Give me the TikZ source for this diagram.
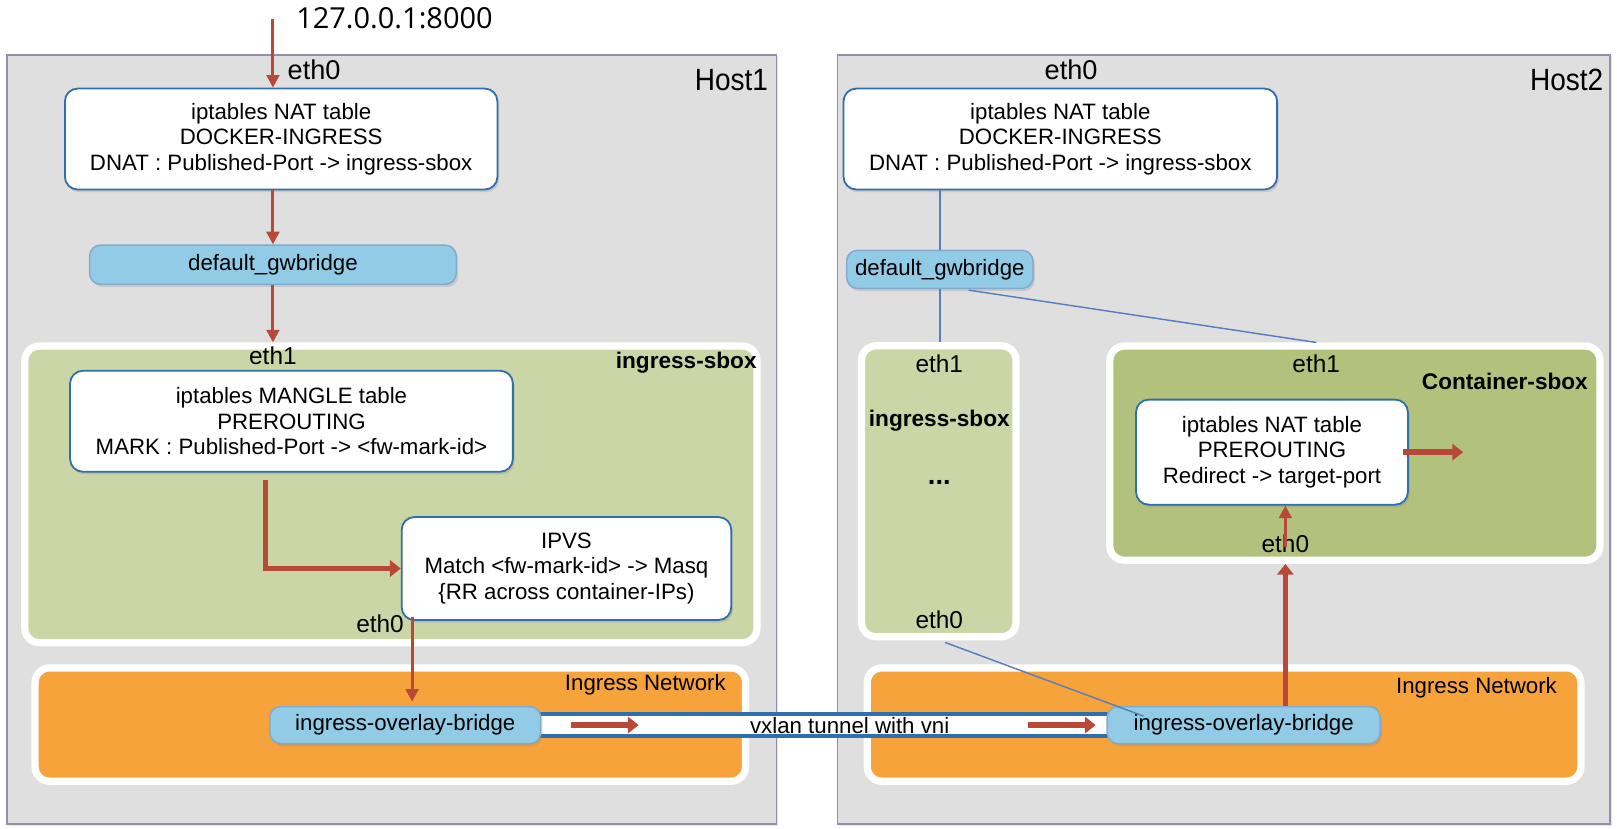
\documentclass[tikz,border=0pt]{standalone}
\usepackage{fontspec}
\setmainfont{Liberation Sans}
\newfontfamily\addrfont{Open Sans}
\newfontfamily\hostfont[FakeStretch=0.91]{Liberation Sans}
\usetikzlibrary{positioning, arrows.meta, shadows}
\definecolor{hostgray}{HTML}{DFDFDF}
\definecolor{hostline}{HTML}{9090A8}
\definecolor{boxblue}{HTML}{2F6FAE}
\definecolor{bridgeblue}{HTML}{92CBE5}
\definecolor{sboxgreen}{HTML}{CBD6A6}
\definecolor{contgreen}{HTML}{B2C17C}
\definecolor{netorange}{HTML}{F7A33C}
\definecolor{flowred}{HTML}{B84838}
\definecolor{linkblue}{HTML}{5A7DBE}
\tikzset{
    every node/.style={font=\fontsize{12.3}{14.2}\selectfont},
    hostbox/.style={draw=hostline, fill=hostgray, line width=1pt,
        drop shadow={opacity=0.2, shadow xshift=1pt, shadow yshift=-1pt}},
    hostlabel/.style={font=\hostfont\fontsize{17}{20}\selectfont},
    rlabel/.style={anchor=east, inner sep=0pt},
    tablebox/.style={draw=boxblue, fill=white, rounded corners=7pt, line width=1pt, align=center,
        drop shadow={opacity=0.25, shadow xshift=1pt, shadow yshift=-1.5pt}},
    bridge/.style={draw=boxblue!60, fill=bridgeblue, rounded corners=6pt, line width=0.8pt,
        drop shadow={opacity=0.25, shadow xshift=1pt, shadow yshift=-1.5pt}},
    sbox/.style={draw=white, fill=sboxgreen, rounded corners=8pt, line width=4pt,
        drop shadow={opacity=0.2, shadow xshift=1pt, shadow yshift=-1.5pt}},
    csbox/.style={sbox, fill=contgreen},
    netbox/.style={sbox, fill=netorange},
    tunnel/.style={draw=boxblue, fill=white, line width=2.2pt},
    ethtop/.style={font=\fontsize{15}{17}\selectfont},
    ethlabel/.style={font=\fontsize{13.5}{16}\selectfont},
    sboxname/.style={font=\fontsize{12.5}{15}\selectfont\bfseries},
    flow/.style={-{Triangle[length=7pt, width=7pt]}, draw=flowred, line width=1.7pt},
    bigflow/.style={-{Triangle[length=6pt, width=9pt]}, draw=flowred, line width=3pt},
    link/.style={draw=linkblue, line width=0.8pt},
}
\begin{document}
\begin{tikzpicture}[x=0.02cm, y=-0.02cm]
\useasboundingbox[fill=white] (0,0) rectangle (1570,804);

% hosts
\node[hostbox, minimum width=14.94cm, minimum height=14.94cm] (host1) at (380.5,426.5) {};
\node[hostbox, minimum width=15cm, minimum height=14.94cm] (host2) at (1188,426.5) {};
\node[hostlabel, rlabel] (h1name) at (746,78) {Host1};
\node[hostlabel, rlabel] (h2name) at (1557,78) {Host2};
\node[font=\addrfont\fontsize{16}{18}\selectfont] (addr) at (383,18) {127.0.0.1:8000};

% host1
\node[ethtop] (h1eth0) at (305,68) {eth0};
\node[tablebox, minimum width=8.4cm, minimum height=1.96cm] (nat1) at (273,135)
    {iptables NAT table\\DOCKER-INGRESS\\DNAT : Published-Port -> ingress-sbox};
\node[bridge, minimum width=7.12cm, minimum height=0.76cm] (gw1) at (265,257) {default\_gwbridge};
\node[sbox, minimum width=14.22cm, minimum height=5.76cm] (sbox1) at (379.5,480) {};
\node[ethlabel] (s1eth1) at (265,345) {eth1};
\node[sboxname, rlabel] (s1name) at (735,352) {ingress-sbox};
\node[tablebox, minimum width=8.6cm, minimum height=1.96cm] (mangle) at (283,409)
    {iptables MANGLE table\\PREROUTING\\MARK : Published-Port -> <fw-mark-id>};
\node[tablebox, minimum width=6.4cm, minimum height=2cm] (ipvs) at (550,552)
    {IPVS\\Match <fw-mark-id> -> Masq\\\{RR across container-IPs)};
\node[ethlabel] (s1eth0) at (369,606) {eth0};
\node[netbox, minimum width=13.8cm, minimum height=2.2cm] (net1) at (379,703.5) {};
\node[rlabel] (net1name) at (705,665) {Ingress Network};

% host2
\node[ethtop] (h2eth0) at (1040,68) {eth0};
\node[tablebox, minimum width=8.42cm, minimum height=1.96cm] (nat2) at (1029.5,135)
    {iptables NAT table\\DOCKER-INGRESS\\DNAT : Published-Port -> ingress-sbox};
\node[bridge, minimum width=3.62cm, minimum height=0.74cm] (gw2) at (912.5,261.5) {default\_gwbridge};
\node[sbox, minimum width=3cm, minimum height=5.65cm] (sbox2) at (911.5,477) {};
\node[ethlabel] (s2eth1) at (912,353) {eth1};
\node[sboxname] (s2name) at (912,408) {ingress-sbox};
\node[sboxname, font=\fontsize{15}{17}\selectfont\bfseries] (s2dots) at (912,468) {...};
\node[ethlabel] (s2eth0) at (912,602) {eth0};
\node[csbox, minimum width=9.52cm, minimum height=4.16cm] (cbox) at (1315.5,440) {};
\node[ethlabel] (ceth1) at (1278,353) {eth1};
\node[sboxname, rlabel] (cname) at (1542,370) {Container-sbox};
\node[tablebox, minimum width=5.28cm, minimum height=2.04cm] (nat3) at (1235,439)
    {iptables NAT table\\PREROUTING\\Redirect -> target-port};
\node[ethlabel] (ceth0) at (1248,528) {eth0};
\node[netbox, minimum width=13.86cm, minimum height=2.2cm] (net2) at (1188.5,703.5) {};
\node[rlabel] (net2name) at (1512,668) {Ingress Network};

% tunnel
\node[tunnel, minimum width=11.16cm, minimum height=0.44cm] (vxlan) at (801,704) {};
\node (vxlanname) at (825,704) {vxlan tunnel with vni};
\node[bridge, minimum width=5.26cm, minimum height=0.72cm] (ovl1) at (393.5,704) {ingress-overlay-bridge};
\node[bridge, minimum width=5.3cm, minimum height=0.72cm] (ovl2) at (1207.5,704) {ingress-overlay-bridge};

% packet path
\coordinate (src) at (265,18);
\draw[flow] (src) -- (src |- nat1.north);
\draw[flow] (gw1 |- nat1.south) -- (gw1.north);
\draw[flow] (gw1.south) -- (gw1.south |- sbox1.north);
\draw[bigflow] ([shift={(-25,7)}]mangle.south) |- (ipvs.west);
\draw[flow] ([shift={(11,-4)}]ipvs.south west) -- ([shift={(11,-4)}]ipvs.south west |- ovl1.north);
\draw[bigflow] ([shift={(34,0)}]vxlan.west) -- ++(66,0);
\draw[bigflow] ([shift={(-84,0)}]vxlan.east) -- ++(66,0);
\draw[bigflow] (ceth0 |- ovl2.north) -- (ceth0 |- cbox.south);
\draw[flow] ([yshift=-2pt]ceth0.center) -- (ceth0 |- nat3.south);
\draw[bigflow] ([xshift=-3pt]nat3.east) -- ++(58,0);

% host2 links
\draw[link] (nat2.south -| gw2) -- (gw2.north);
\draw[link] (gw2.south) -- (gw2.south |- sbox2.north);
\draw[link] ([shift={(28,1)}]gw2.south) -- (cbox.north -| ceth1);
\draw[link] ([shift={(6,2)}]sbox2.south) -- ([shift={(36,10)}]ovl2.north west);
\end{tikzpicture}
\end{document}
